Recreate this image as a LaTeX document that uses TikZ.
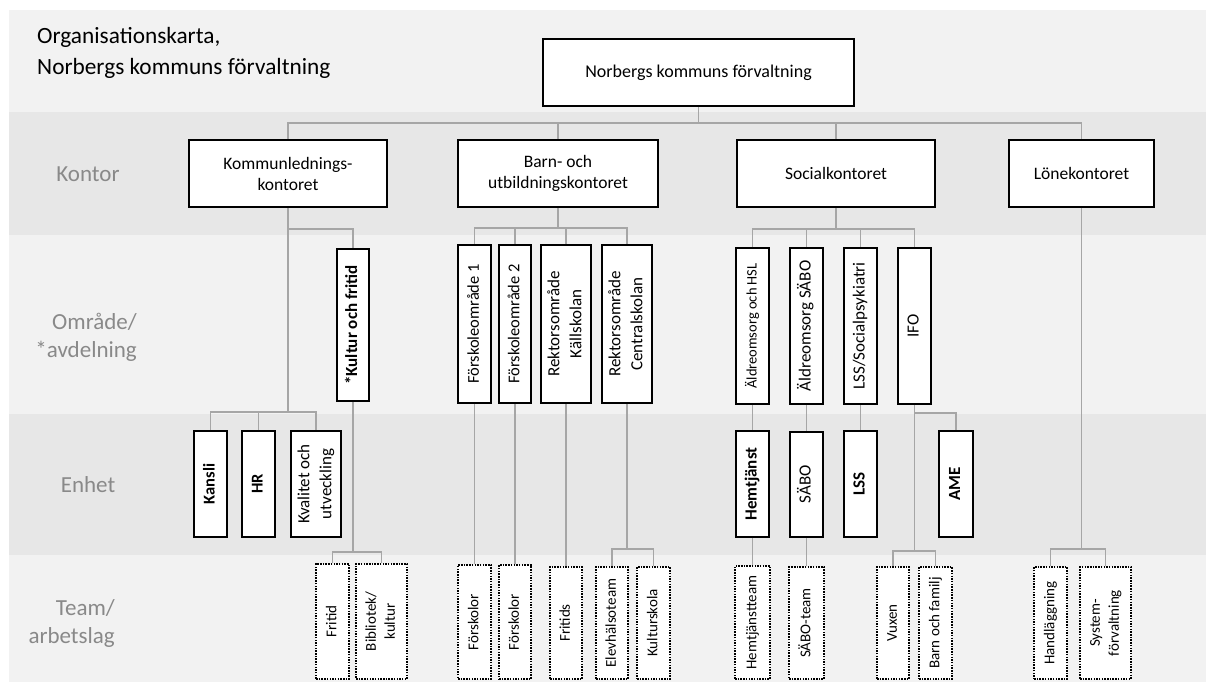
\documentclass[tikz,border=0pt]{standalone}
\usepackage{fontspec}
\setmainfont{Carlito}
\usepackage{graphicx}
\definecolor{bandA}{HTML}{F2F2F2}
\definecolor{bandB}{HTML}{E7E7E7}
\definecolor{connc}{HTML}{A6A6A6}
\definecolor{lblc}{HTML}{898989}
\newcommand\fs[2]{\fontsize{#1pt}{#2pt}\selectfont}
\newcommand\vt[1]{\rotatebox{90}{\begin{tabular}{@{}c@{}}#1\end{tabular}}}
\newcommand\bx[7]{\node[#2,minimum width={#5-#3},minimum height={#6-#4}] (#1) at ({(#3+#5)/2},{(#4+#6)/2}) {#7};}
\tikzset{
  box/.style={draw=black, line width=1.8pt, fill=white, inner sep=0pt, align=center},
  tbox/.style={draw=black, line width=1.8pt, dash pattern=on 1.5pt off 1.2pt, fill=white, inner sep=0pt},
  conn/.style={draw=connc, line width=1.3pt},
  lab/.style={text=lblc, font=\fs{23}{28}, inner sep=0pt},
}
\begin{document}
\begin{tikzpicture}[x=1pt,y=-1pt]
\useasboundingbox (0,0) rectangle (1206,682);
\fill[white] (0,0) rectangle (1206,682);
\fill[bandA] (9,10) rectangle (1206,112);
\fill[bandB] (9,112) rectangle (1206,235);
\fill[bandA] (9,235) rectangle (1206,414);
\fill[bandB] (9,414) rectangle (1206,555);
\fill[bandA] (9,555) rectangle (1206,682);

% title and row labels
\node[anchor=north west, align=left, inner sep=0pt, font=\fs{23.3}{31.5}] (title) at (37,27) {Organisationskarta,\\Norbergs kommuns förvaltning};
\node[lab] (lk) at (88,174) {Kontor};
\node[lab, align=right, anchor=east] (lo) at (137,337) {Område/\\*avdelning};
\node[lab] (le) at (88,485) {Enhet};
\node[lab, align=right, anchor=east] (lt) at (115,623) {Team/\\arbetslag};

% junction coordinates
\coordinate (j0) at (698.5,123);
\coordinate (jk) at (288,412);
\coordinate (jkf) at (288,229);
\coordinate (jt1) at (353,552);
\coordinate (jb) at (558,228);
\coordinate (jr) at (627,549);
\coordinate (js) at (836,229);
\coordinate (jv) at (914.5,551);
\coordinate (jifo) at (914.5,413);
\coordinate (jl) at (1081.5,549);

% boxes
\bx{top}{box,font=\fs{18}{21}}{543}{39}{854}{106}{Norbergs kommuns förvaltning}
\bx{k1}{box,font=\fs{17.5}{21}}{189}{140}{387}{207}{Kommunlednings-\\kontoret}
\bx{k2}{box,font=\fs{17.5}{21}}{458}{140}{658}{207}{Barn- och\\utbildningskontoret}
\bx{k3}{box,font=\fs{17.5}{21}}{737}{140}{935}{207}{Socialkontoret}
\bx{k4}{box,font=\fs{17.5}{21}}{1009}{140}{1154}{207}{Lönekontoret}

\bx{kf}{box,font=\bfseries\fs{17}{21}}{337}{249}{369}{401}{\vt{*Kultur och fritid}}
\bx{kansli}{box,font=\bfseries\fs{16.5}{21}}{194}{431}{227}{537}{\vt{Kansli}}
\bx{hr}{box,font=\bfseries\fs{16.5}{21}}{242}{431}{275}{537}{\vt{HR}}
\bx{kval}{box,font=\fs{17}{22}}{291}{431}{341}{537}{\vt{Kvalitet och\\utveckling}}

\bx{f1}{box,font=\fs{16.5}{22}}{458}{245}{491}{403}{\vt{Förskoleområde 1}}
\bx{f2}{box,font=\fs{16.5}{22}}{499}{245}{531}{403}{\vt{Förskoleområde 2}}
\bx{rk}{box,font=\fs{17}{22}}{541}{245}{591}{403}{\vt{Rektorsområde\\Källskolan}}
\bx{rc}{box,font=\fs{17}{22}}{602}{245}{652}{403}{\vt{Rektorsområde\\Centralskolan}}

\bx{ah}{box,font=\fs{14.5}{20}}{736}{248}{769}{404}{\vt{Äldreomsorg och HSL}}
\bx{as}{box,font=\fs{17}{21}}{790}{248}{823}{404}{\vt{Äldreomsorg SÄBO}}
\bx{lss1}{box,font=\fs{17}{21}}{844}{248}{877}{404}{\vt{LSS/Socialpsykiatri}}
\bx{ifo}{box,font=\fs{17}{21}}{898}{248}{931}{404}{\vt{IFO}}

\bx{hemt}{box,font=\bfseries\fs{17}{21}}{736}{431}{769}{537}{\vt{Hemtjänst}}
\bx{sabo}{box,font=\fs{17}{21}}{790}{432}{823}{537}{\vt{SÄBO}}
\bx{lss}{box,font=\bfseries\fs{17}{21}}{844}{431}{877}{537}{\vt{LSS}}
\bx{ame}{box,font=\bfseries\fs{17}{21}}{939}{431}{973}{537}{\vt{AME}}

\bx{tfritid}{tbox,font=\fs{15}{19}}{316}{564}{349}{679}{\vt{Fritid\hspace{3pt}}}
\bx{tbibl}{tbox,font=\fs{15}{19}}{356}{564}{407}{679}{\vt{Bibliotek/\hspace{3pt}\\kultur\hspace{3pt}}}
\bx{tf1}{tbox,font=\fs{15}{19}}{458}{565}{491}{679}{\vt{Förskolor\hspace{3pt}}}
\bx{tf2}{tbox,font=\fs{15}{19}}{499}{565}{531}{679}{\vt{Förskolor\hspace{3pt}}}
\bx{tfritids}{tbox,font=\fs{15}{19}}{550}{567}{582}{679}{\vt{Fritids\hspace{3pt}}}
\bx{telev}{tbox,font=\fs{15}{19}}{596}{567}{628}{679}{\vt{Elevhälsoteam\hspace{3pt}}}
\bx{tkult}{tbox,font=\fs{15}{19}}{637}{567}{670}{679}{\vt{Kulturskola\hspace{3pt}}}
\bx{themt}{tbox,font=\fs{15}{19}}{735}{566}{770}{679}{\vt{Hemtjänstteam\hspace{3pt}}}
\bx{tsabo}{tbox,font=\fs{15}{19}}{789}{567}{824}{679}{\vt{SÄBO-team\hspace{3pt}}}
\bx{tvux}{tbox,font=\fs{15}{19}}{877}{567}{909}{679}{\vt{Vuxen\hspace{3pt}}}
\bx{tbarn}{tbox,font=\fs{15}{19}}{919}{567}{952}{679}{\vt{Barn och familj\hspace{3pt}}}
\bx{thand}{tbox,font=\fs{15}{19}}{1034}{567}{1067}{679}{\vt{Handläggning\hspace{3pt}}}
\bx{tsys}{tbox,font=\fs{15}{19}}{1080}{567}{1131}{679}{\vt{System-\hspace{3pt}\\förvaltning\hspace{3pt}}}

% connectors
\draw[conn] (top.south) -- (j0);
\draw[conn] (k1.north) |- (j0) -| (k4.north);
\draw[conn] (k2.north) -- (k2.north |- j0);
\draw[conn] (k3.north) -- (k3.north |- j0);

\draw[conn] (k1.south) -- (jk);
\draw[conn] (jkf) -| (kf.north);
\draw[conn] (kansli.north) |- (jk) -| (kval.north);
\draw[conn] (hr.north) -- (hr.north |- jk);
\draw[conn] (kf.south) -- (jt1);
\draw[conn] (tfritid.north) |- (jt1) -| (tbibl.north);

\draw[conn] (k2.south) -- (jb);
\draw[conn] (f1.north) |- (jb) -| (rc.north);
\draw[conn] (f2.north) -- (f2.north |- jb);
\draw[conn] (rk.north) -- (rk.north |- jb);
\draw[conn] (f1.south) -- (tf1.north);
\draw[conn] (f2.south) -- (tf2.north);
\draw[conn] (rk.south) -- (rk.south |- tfritids.north);
\draw[conn] (rc.south) -- (jr);
\draw[conn] (telev.north) |- (jr) -| (tkult.north);

\draw[conn] (k3.south) -- (js);
\draw[conn] (ah.north) |- (js) -| (ifo.north);
\draw[conn] (as.north) -- (as.north |- js);
\draw[conn] (lss1.north) -- (lss1.north |- js);
\draw[conn] (ah.south) -- (hemt.north);
\draw[conn] (hemt.south) -- (hemt.south |- themt.north);
\draw[conn] (as.south) -- (sabo.north);
\draw[conn] (sabo.south) -- (sabo.south |- tsabo.north);
\draw[conn] (lss1.south) -- (lss.north);
\draw[conn] (ifo.south) -- (jv);
\draw[conn] (jifo) -| (ame.north);
\draw[conn] (tvux.north) |- (jv) -| (tbarn.north);

\draw[conn] (k4.south) -- (jl);
\draw[conn] (thand.north) |- (jl) -| (tsys.north);
\end{tikzpicture}
\end{document}
